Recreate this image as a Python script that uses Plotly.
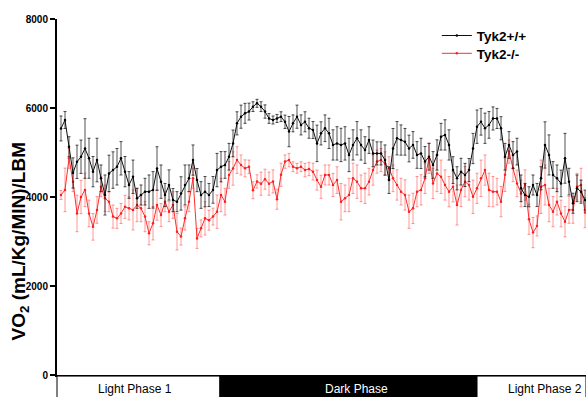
import plotly.graph_objects as go

# Sample index across the recording (light -> dark -> light)
n_points = 132
sample = list(range(n_points))

# Tyk2+/+ mean VO2 and SEM
wt_mean = [
    5540, 5730, 5130, 4540, 4790, 4905, 5090, 4870, 4570, 4830,
    4420, 4045, 4530, 4605, 4680, 4870, 4570, 4270, 4455, 3970,
    4045, 4120, 4120, 4160, 4640, 4345, 4045, 4270, 3930, 3895,
    4080, 4270, 4420, 4830, 4380, 4045, 4120, 4045, 4160, 4605,
    4680, 4720, 4905, 5205, 5655, 5805, 5880, 5920, 6030, 6105,
    6030, 5920, 5765, 5730, 5765, 5805, 5690, 5470, 5655, 5805,
    5620, 5690, 5545, 5505, 5205, 5430, 5545, 5430, 5170, 5205,
    5170, 5205, 4945, 5170, 5320, 5170, 5055, 5280, 4980, 4980,
    4980, 4830, 4380, 5090, 5320, 5280, 5240, 5090, 5170, 4945,
    4980, 4795, 4905, 4720, 4945, 5355, 5395, 5170, 4605, 4420,
    4570, 4495, 4605, 5090, 5580, 5690, 5545, 5620, 5765, 5765,
    5545, 4905, 5170, 4945, 5020, 4195, 4045, 4005, 4270, 4045,
    4420, 5170, 4945, 4495, 4420, 4305, 4870, 4345, 3860, 4195,
    4120, 3930,
]
wt_sem = [
    280, 190, 225, 340, 375, 375, 670, 450, 340, 490,
    300, 450, 410, 410, 410, 375, 340, 300, 375, 225,
    225, 300, 375, 410, 490, 375, 260, 340, 260, 225,
    375, 450, 300, 340, 260, 300, 340, 260, 300, 375,
    340, 300, 300, 300, 260, 260, 225, 190, 110, 90,
    110, 150, 110, 90, 90, 110, 150, 340, 190, 260,
    225, 225, 225, 190, 410, 260, 300, 340, 340, 375,
    375, 375, 375, 340, 375, 340, 300, 300, 300, 260,
    260, 340, 300, 450, 375, 340, 300, 300, 300, 300,
    340, 340, 300, 300, 340, 300, 340, 340, 300, 260,
    300, 260, 260, 340, 375, 300, 340, 300, 260, 225,
    260, 300, 300, 300, 300, 300, 260, 225, 225, 260,
    260, 520, 450, 300, 300, 300, 560, 300, 225, 300,
    260, 225,
]

# Tyk2-/- mean VO2 and SEM
ko_mean = [
    4045, 4160, 4870, 4345, 3630, 4000, 4160, 3630, 3330, 3710,
    4230, 3970, 3895, 3560, 3520, 3630, 3780, 3745, 3710, 3820,
    3745, 3560, 3185, 3410, 3820, 3595, 3895, 3670, 3820, 3220,
    3110, 3520, 3895, 4420, 3070, 3295, 3520, 3480, 3560, 3670,
    4045, 3895, 4495, 4640, 4830, 4720, 4645, 4680, 4150, 4350,
    4300, 4400, 4300, 4350, 3950, 4500, 4795, 4830, 4680, 4645,
    4680, 4605, 4630, 4570, 4380, 4230, 4495, 4495, 4270, 4380,
    3895, 3970, 4045, 4420, 4345, 4195, 4195, 4345, 4605, 4795,
    4830, 4755, 4645, 4420, 4270, 4120, 4045, 3670, 3745, 4120,
    4160, 4420, 4870, 4305, 4530, 4455, 4270, 4120, 4230, 3820,
    4160, 4345, 4270, 4005, 4195, 4420, 4605, 4160, 4120, 4120,
    3895, 4500, 5020, 4645, 4305, 4080, 4270, 3500, 3200, 3350,
    4230, 4270, 3820, 3670, 3895, 3630, 3445, 3710, 3710, 4230,
    4270, 3650,
]
ko_sem = [
    100, 490, 225, 225, 410, 375, 375, 300, 300, 300,
    225, 300, 225, 260, 225, 225, 260, 260, 450, 375,
    300, 340, 260, 375, 340, 260, 225, 225, 300, 410,
    190, 260, 225, 225, 225, 190, 375, 225, 190, 375,
    375, 300, 300, 375, 300, 225, 190, 150, 190, 150,
    260, 225, 260, 260, 225, 260, 150, 150, 110, 110,
    110, 150, 150, 190, 225, 260, 225, 225, 260, 300,
    410, 300, 375, 340, 375, 300, 340, 300, 340, 260,
    260, 260, 260, 300, 340, 300, 340, 375, 340, 340,
    340, 340, 340, 340, 410, 375, 340, 340, 340, 450,
    375, 340, 340, 375, 340, 410, 340, 375, 340, 300,
    340, 375, 260, 300, 300, 300, 340, 340, 340, 225,
    600, 450, 375, 340, 300, 300, 340, 300, 300, 300,
    375, 340,
]

y_ticks = [0, 2000, 4000, 6000, 8000]

# Light/dark phase bands under the time axis (paper x from left axis edge)
phase_labels = ["Light Phase 1", "Dark Phase", "Light Phase 2"]
phase_edges = [0.0, 0.308, 0.794, 1.0]
phase_fill = ["white", "black", "white"]
phase_text_color = ["black", "white", "black"]
phase_text_x = [0.148, 0.567, 0.923]

FONT = "Liberation Sans, Arial, Helvetica, sans-serif"

fig = go.Figure()

fig.add_trace(go.Scatter(
    x=sample, y=ko_mean, name="Tyk2-/-", mode="lines+markers",
    line=dict(color="rgb(255,45,45)", width=1),
    marker=dict(color="rgb(255,30,30)", size=2.5),
    error_y=dict(type="data", array=ko_sem, visible=True,
                 color="rgba(255,70,70,0.55)", thickness=1, width=1.5),
    legend="legend2",
))
fig.add_trace(go.Scatter(
    x=sample, y=wt_mean, name="Tyk2+/+", mode="lines+markers",
    line=dict(color="rgb(15,15,15)", width=1),
    marker=dict(color="black", size=2.5),
    error_y=dict(type="data", array=wt_sem, visible=True,
                 color="rgba(0,0,0,0.68)", thickness=1, width=1.5),
    legend="legend",
))

shapes = []
annotations = []
for i, label in enumerate(phase_labels):
    shapes.append(dict(
        type="rect", xref="paper", yref="paper",
        x0=phase_edges[i], x1=phase_edges[i + 1], y0=-0.064, y1=-0.003,
        fillcolor=phase_fill[i], line=dict(color="black", width=1),
    ))
    annotations.append(dict(
        xref="paper", yref="paper", x=phase_text_x[i], y=-0.04,
        text=label, showarrow=False, xanchor="center", yanchor="middle",
        font=dict(family=FONT, size=12, color=phase_text_color[i]),
    ))

annotations.append(dict(
    xref="paper", yref="paper", x=-0.07, y=0.375,
    text="<b>VO<sub>2</sub> (mL/Kg/MIN)/LBM</b>", textangle=-90,
    showarrow=False, xanchor="center", yanchor="middle",
    font=dict(family=FONT, size=19, color="black"),
))

legend_common = dict(
    xref="paper", yref="paper", xanchor="left", yanchor="middle",
    bgcolor="rgba(0,0,0,0)", borderwidth=0, itemwidth=30,
    font=dict(family=FONT, size=13.5, color="black", weight="bold"),
)

fig.update_layout(
    width=586, height=397,
    margin=dict(l=57, r=0, t=19, b=22),
    paper_bgcolor="white", plot_bgcolor="white",
    showlegend=True,
    legend=dict(x=0.718, y=0.953, **legend_common),
    legend2=dict(x=0.718, y=0.903, **legend_common),
    shapes=shapes, annotations=annotations,
    xaxis=dict(
        range=[-1, 131.25], showgrid=False, zeroline=False,
        showticklabels=False, ticks="", showline=True,
        linecolor="black", linewidth=1.5,
    ),
    yaxis=dict(
        range=[0, 8000], tickvals=y_ticks,
        ticktext=[f"<b>{v}</b>" for v in y_ticks],
        showgrid=False, zeroline=False, showline=True,
        linecolor="black", linewidth=2, ticks="outside", ticklen=5,
        tickwidth=1.5, tickcolor="black",
        tickfont=dict(family=FONT, size=10, color="black"),
    ),
)

fig.write_html("out.html")
